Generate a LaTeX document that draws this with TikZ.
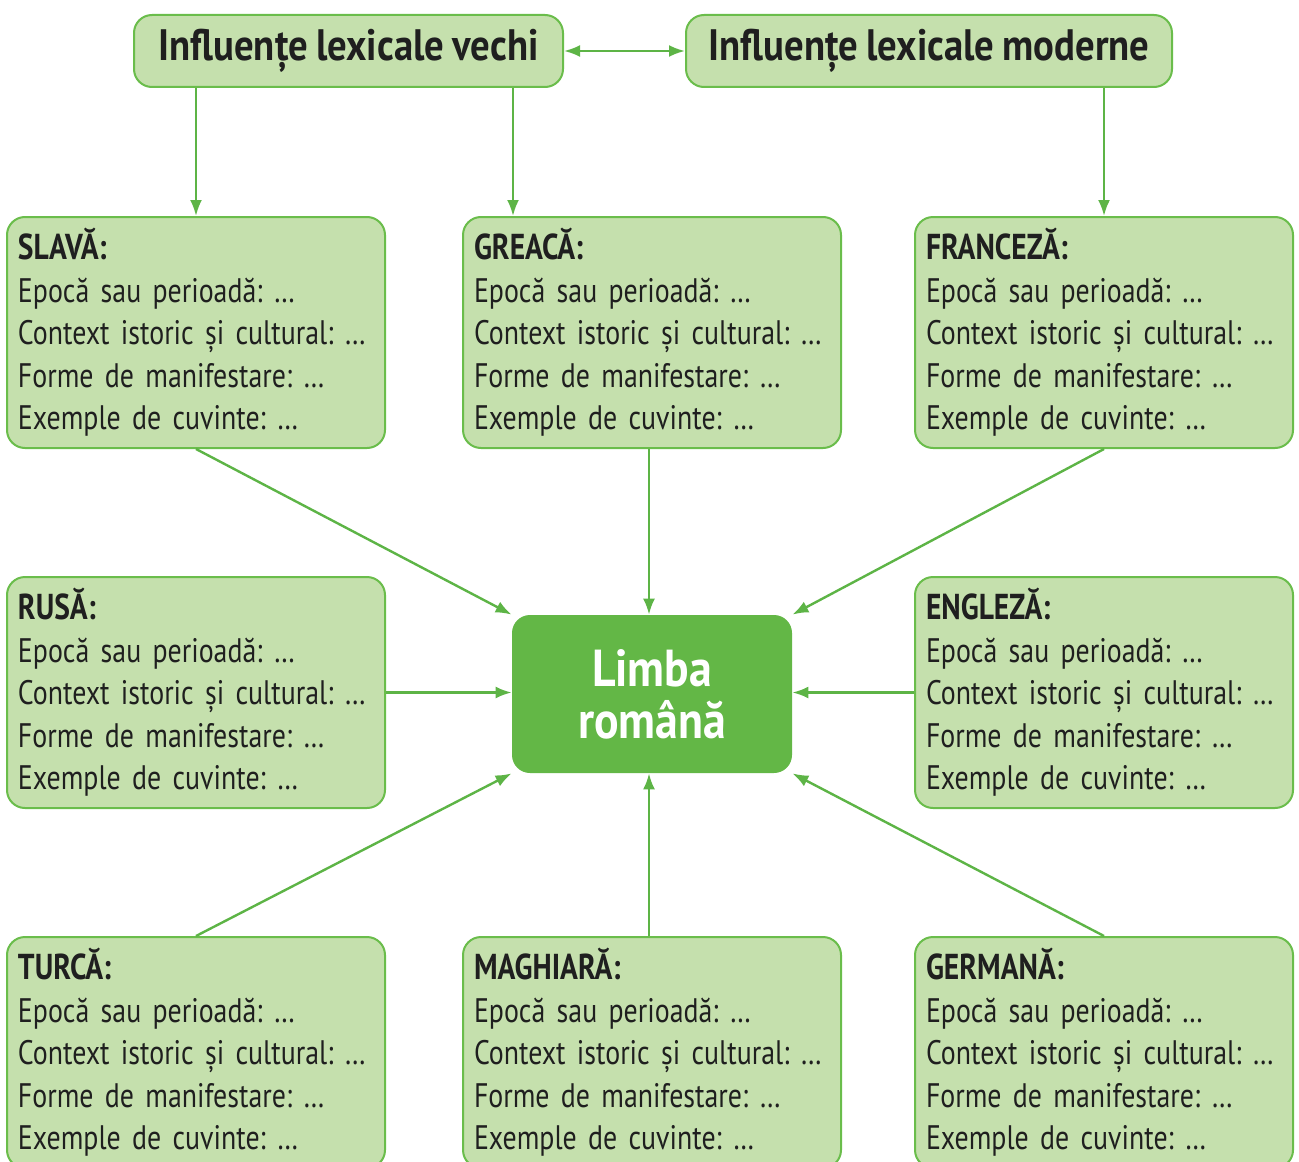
\documentclass[tikz,border=0pt]{standalone}
\usepackage{fontspec}
\setmainfont{PT Sans}[FakeStretch=0.82,WordSpace=0.85]
\newfontfamily\headfont{PT Sans}[FakeStretch=0.88,WordSpace=0.85]
\usetikzlibrary{arrows.meta}
\frenchspacing

\definecolor{boxfill}{HTML}{C5E0AD}
\definecolor{boxline}{HTML}{6ABD4B}
\definecolor{corefill}{HTML}{63B746}
\definecolor{linkcol}{HTML}{5DB446}

% the four lines of every language box
\newcommand{\langtext}[1]{{\fontsize{18}{21.25}\selectfont\textbf{#1:}}\\
  Epocă sau perioadă: \dots\\
  Context istoric și cultural: \dots\\
  Forme de manifestare: \dots\\
  Exemple de cuvinte: \dots}

\begin{document}
\begin{tikzpicture}[x=0.5pt,y=-0.5pt]
    \tikzset{
        langbox/.style={draw=boxline, fill=boxfill, line width=1pt, rounded corners=9pt,
            minimum height=115.5pt, text width=178pt, inner xsep=5.5pt, align=left,
            font=\fontsize{17}{21.25}\selectfont, text=black!88},
        headbox/.style={draw=boxline, fill=boxfill, line width=1pt, rounded corners=9pt,
            minimum height=36pt, font=\headfont\fontsize{22}{26}\selectfont\bfseries, text=black!88},
        corebox/.style={fill=corefill, rounded corners=9pt, minimum width=140pt,
            minimum height=79pt, align=center, text=white,
            font=\headfont\fontsize{26}{26}\selectfont\bfseries},
        link/.style={draw=linkcol, line width=1.2pt, -{Latex[length=8pt,width=6pt]}},
    }
    \useasboundingbox (0,0) rectangle (1299,1161);
    \clip (0,0) rectangle (1299,1161);

    % headers
    \node[headbox, minimum width=214.5pt] (vechi) at (348.5,51) {Influențe lexicale vechi};
    \node[headbox, minimum width=243pt] (moderne) at (929,51) {Influențe lexicale moderne};

    % centre
    \node[corebox] (roman) at (652,694) {Limba\\română};

    % language boxes
    \node[langbox] (slava) at (196,332.5) {\langtext{SLAVĂ}};
    \node[langbox] (greaca) at (652,332.5) {\langtext{GREACĂ}};
    \node[langbox] (franceza) at (1104,332.5) {\langtext{FRANCEZĂ}};
    \node[langbox] (rusa) at (196,692.5) {\langtext{RUSĂ}};
    \node[langbox] (engleza) at (1104,692.5) {\langtext{ENGLEZĂ}};
    \node[langbox] (turca) at (196,1052.5) {\langtext{TURCĂ}};
    \node[langbox] (maghiara) at (652,1052.5) {\langtext{MAGHIARĂ}};
    \node[langbox] (germana) at (1104,1052.5) {\langtext{GERMANĂ}};

    % header links
    \draw[link, {Latex[length=8pt,width=6pt]}-{Latex[length=8pt,width=6pt]}] (vechi.east) -- (moderne.west);
    \draw[link] (slava.north |- vechi.south) -- (slava.north);
    \draw[link] ([xshift=-25.5pt]vechi.south east) -- ([xshift=-25.5pt]vechi.south east |- greaca.north);
    \draw[link] (franceza.north |- moderne.south) -- (franceza.north);

    % links to the centre
    \draw[link] (slava.south) -- (roman.north west);
    \draw[link] ([xshift=-1.5pt]greaca.south) -- ([xshift=-1.5pt]roman.north);
    \draw[link] (franceza.south) -- (roman.north east);
    \draw[link] (rusa.east) -- (rusa.east -| roman.west);
    \draw[link] (engleza.west) -- (engleza.west -| roman.east);
    \draw[link] (turca.north) -- (roman.south west);
    \draw[link] ([xshift=-1.5pt]maghiara.north) -- ([xshift=-1.5pt]roman.south);
    \draw[link] (germana.north) -- (roman.south east);
\end{tikzpicture}
\end{document}
